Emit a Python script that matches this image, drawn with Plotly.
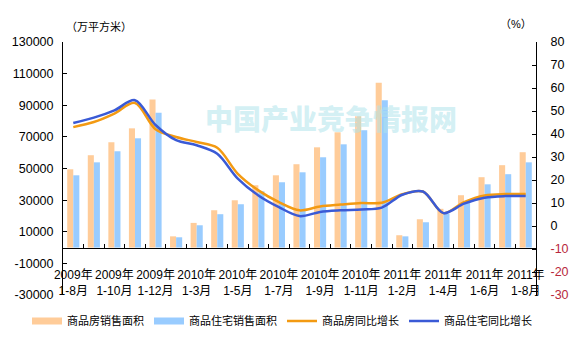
import plotly.graph_objects as go

# Monthly cumulative periods (every other one labelled on the axis)
categories = [
    "2009年1-8月", "2009年1-9月", "2009年1-10月", "2009年1-11月", "2009年1-12月",
    "2010年1-2月", "2010年1-3月", "2010年1-4月", "2010年1-5月", "2010年1-6月",
    "2010年1-7月", "2010年1-8月", "2010年1-9月", "2010年1-10月", "2010年1-11月",
    "2010年1-12月", "2011年1-2月", "2011年1-3月", "2011年1-4月", "2011年1-5月",
    "2011年1-6月", "2011年1-7月", "2011年1-8月",
]

# Sales area, 10k m2
sales_area = [49500, 58400, 66600, 75400, 93700, 7100, 15600, 23600, 29900, 39400,
              45700, 52700, 63400, 72900, 83000, 104300, 7800, 17900, 24500, 33100,
              44500, 52100, 60300]
resid_area = [45700, 53900, 60900, 69100, 85300, 6500, 14100, 21100, 27400, 35600,
              41300, 47600, 57100, 65300, 74200, 93100, 7100, 16000, 21500, 29300,
              40000, 46400, 53900]

# Year-on-year growth, %
sales_yoy = [43.0, 45.2, 48.9, 53.5, 42.1, 38.7, 36.5, 34.0, 22.7, 15.5,
             10.4, 6.8, 8.5, 9.3, 10.0, 10.1, 13.8, 15.0, 5.6, 10.4,
             13.3, 13.9, 13.9]
resid_yoy = [44.8, 47.1, 50.3, 54.7, 43.9, 37.3, 35.1, 31.4, 20.6, 13.3,
             8.2, 4.3, 6.1, 6.8, 7.2, 8.0, 13.6, 15.0, 5.6, 9.7,
             12.3, 13.0, 13.0]

left_ticks = list(range(-30000, 130001, 20000))
right_ticks = list(range(-30, 81, 10))

def short_label(c):
    year, period = c.split("年")
    return f"{year}年<br>{period}"

tick_text = [short_label(c) if i % 2 == 0 else "" for i, c in enumerate(categories)]

right_text = [
    f"<span style='color:#b8283c'>{v}</span>" if v < 0 else str(v)
    for v in right_ticks
]

FONT = "Liberation Sans, Arial, Noto Sans CJK SC, sans-serif"
PEACH, SKY = "#FFCC99", "#99CCFF"
ORANGE, BLUE = "#F39A12", "#3A5AD6"

fig = go.Figure()
fig.add_trace(go.Bar(x=categories, y=sales_area, name="商品房销售面积",
                     marker=dict(color=PEACH, line=dict(width=0)), showlegend=False))
fig.add_trace(go.Bar(x=categories, y=resid_area, name="商品住宅销售面积",
                     marker=dict(color=SKY, line=dict(width=0)), showlegend=False))
fig.add_trace(go.Scatter(x=categories, y=sales_yoy, name="商品房同比增长", yaxis="y2",
                         mode="lines", line=dict(color=ORANGE, width=2.5,
                                                 shape="spline", smoothing=0.9),
                         showlegend=False))
fig.add_trace(go.Scatter(x=categories, y=resid_yoy, name="商品住宅同比增长", yaxis="y2",
                         mode="lines", line=dict(color=BLUE, width=2.5,
                                                 shape="spline", smoothing=0.9),
                         showlegend=False))

# Legend keys: wide swatches for the bars, thin strokes for the lines
for name, color, width in [("商品房销售面积", PEACH, 7), ("商品住宅销售面积", SKY, 7),
                           ("商品房同比增长", ORANGE, 2.5), ("商品住宅同比增长", BLUE, 2.5)]:
    fig.add_trace(go.Scatter(x=[None], y=[None], mode="lines", name=name,
                             line=dict(color=color, width=width), hoverinfo="skip"))

L, R, T, B = 63, 41, 42, 52
W, H = 577, 347
pw, ph = W - L - R, H - T - B

def px_x(x):
    return (x - L) / pw

def px_y(y):
    return (H - B - y) / ph

zero_pos = 30000 / 160000

fig.update_layout(
    width=W, height=H,
    margin=dict(l=L, r=R, t=T, b=B, autoexpand=False),
    paper_bgcolor="white", plot_bgcolor="white",
    font=dict(family=FONT, size=12, color="black"),
    barmode="group", bargap=0.41, bargroupgap=0,
    showlegend=True,
    legend=dict(orientation="h", x=px_x(27), xanchor="left",
                y=px_y(321), yanchor="middle",
                font=dict(size=11), tracegroupgap=0, itemwidth=30,
                bgcolor="rgba(0,0,0,0)"),
    xaxis=dict(
        type="category", anchor="free", position=zero_pos,
        showline=True, linecolor="black", linewidth=1,
        ticks="inside", ticklen=4, tickcolor="black", tickson="boundaries",
        tickmode="array", tickvals=categories, ticktext=tick_text,
        tickangle=0, tickfont=dict(size=12), showgrid=False, zeroline=False,
        ticklabelstandoff=16,
    ),
    yaxis=dict(
        range=[-30000, 130000], tickvals=left_ticks,
        ticktext=[str(v) for v in left_ticks],
        showline=True, linecolor="black", linewidth=1,
        ticks="inside", ticklen=4, tickcolor="black",
        showgrid=False, zeroline=False, tickfont=dict(size=12.5),
        ticklabelstandoff=6,
    ),
    yaxis2=dict(
        range=[-30, 80], tickvals=right_ticks, ticktext=right_text,
        overlaying="y", side="right",
        showline=True, linecolor="black", linewidth=1,
        ticks="inside", ticklen=4, tickcolor="black",
        showgrid=False, zeroline=False, tickfont=dict(size=12.5),
        ticklabelstandoff=11,
    ),
    annotations=[
        dict(text="（万平方米）", x=px_x(64), y=px_y(18), xref="paper", yref="paper",
             showarrow=False, font=dict(size=11)),
        dict(text="（%）", x=px_x(534), y=px_y(16), xref="paper", yref="paper",
             showarrow=False, font=dict(size=11)),
        dict(text="中国产业竞争情报网", x=px_x(203), y=px_y(96), xref="paper", yref="paper",
             showarrow=False,
             font=dict(size=28, color="rgba(175,228,235,0.55)", weight=900,
                       family="Noto Sans CJK SC, sans-serif")),
    ],
)

fig.write_html("out.html")
